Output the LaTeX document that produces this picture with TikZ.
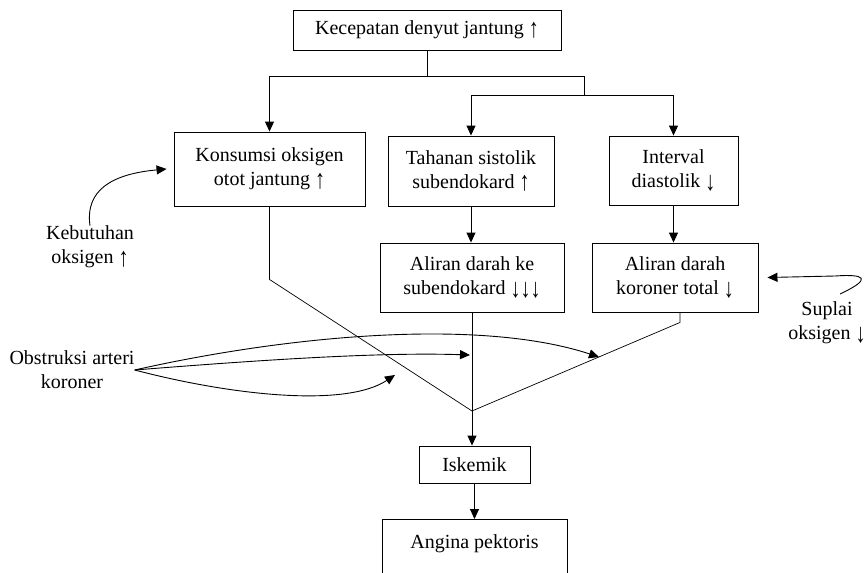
\documentclass[tikz,border=0pt]{standalone}
\usepackage{fontspec}
\usepackage{graphicx}
\setmainfont{Liberation Serif}
\usetikzlibrary{arrows.meta}
\newcommand{\upar}{\raisebox{-2.5pt}{\scalebox{1}[1.35]{↑}}}
\newcommand{\dnar}{\raisebox{-3pt}{\scalebox{1}[1.35]{↓}}}
\begin{document}
\begin{tikzpicture}[x=1pt,y=-1pt,
  font=\fontsize{20}{24}\selectfont,
  box/.style={draw, rectangle, line width=0.9pt, inner sep=0pt, align=center},
  lbl/.style={inner sep=0pt, align=center},
  conn/.style={line width=0.9pt},
  thinl/.style={line width=0.7pt},
  arr/.style={line width=0.9pt, -{Triangle[length=10pt,width=9pt]}}]
\useasboundingbox (0,0) rectangle (865,573);

% boxes
\node[box, minimum width=268, minimum height=40] (top) at (427,30) {Kecepatan denyut jantung \upar};
\node[box, minimum width=191, minimum height=74] (kons) at (269.5,169) {Konsumsi oksigen\\otot jantung \upar};
\node[box, minimum width=166, minimum height=70] (tah) at (471,171) {Tahanan sistolik\\subendokard \upar};
\node[box, minimum width=129, minimum height=69] (int) at (673.5,170.5) {Interval\\diastolik \dnar};
\node[box, minimum width=184, minimum height=69] (alk) at (472,277.5) {Aliran darah ke\\subendokard \dnar\dnar\dnar};
\node[box, minimum width=166, minimum height=69] (alr) at (675,277.5) {Aliran darah\\koroner total \dnar};
\node[box, minimum width=111, minimum height=37] (isk) at (474.5,464.5) {Iskemik};
\node[box, anchor=north, minimum width=185, text height=25pt, text depth=70pt, inner ysep=4pt] (ang) at (474.5,519) {Angina pektoris};

% side labels
\node[lbl] (keb) at (90,247) {Kebutuhan\\oksigen \upar};
\node[lbl] (sup) at (827,323) {Suplai\\oksigen \dnar};
\node[lbl] (obs) at (72,370) {Obstruksi arteri\\koroner};

% junctions
\coordinate (j1) at (427,76);
\coordinate (j2) at (584,76);
\coordinate (j3) at (584,95);
\coordinate (meet) at (472,411);
\coordinate (s1) at (840,294);
\coordinate (o1) at (599,357);
\coordinate (o2) at (470,355);
\coordinate (o3) at (395,375);

% tree connectors
\draw[conn] (top.south) -- (j1);
\draw[arr] (j1) -| (kons.north);
\draw[conn] (j1) -- (j2) -- (j3);
\draw[arr] (j3) -| (tah.north);
\draw[arr] (j3) -| (int.north);
\draw[arr] (tah.south) -- (tah.south |- alk.north);
\draw[arr] (int.south) -- (int.south |- alr.north);

% converging lines
\draw[thinl] (kons.south) -- ++(0,73) -- (meet);
\draw[thinl] ([xshift=5pt]alr.south) -- ++(0,10) -- (meet);
\draw[arr] (alk.south) -- (alk.south |- isk.north);
\draw[arr] (isk.south) -- (isk.south |- ang.north);

% curved arrows
\draw[arr] (keb.north) .. controls (85,190) and (112,174) .. ([xshift=-7pt]kons.west);
\draw[arr] (s1) .. controls (874,278) and (864,274) .. (835,276) -- ([xshift=9pt]alr.east);
\draw[arr] (obs.east) .. controls (290,335) and (480,318) .. (o1);
\draw[arr] (obs.east) .. controls (260,360) and (380,352) .. (o2);
\draw[arr] (obs.east) .. controls (230,395) and (345,408) .. (o3);
\end{tikzpicture}
\end{document}
